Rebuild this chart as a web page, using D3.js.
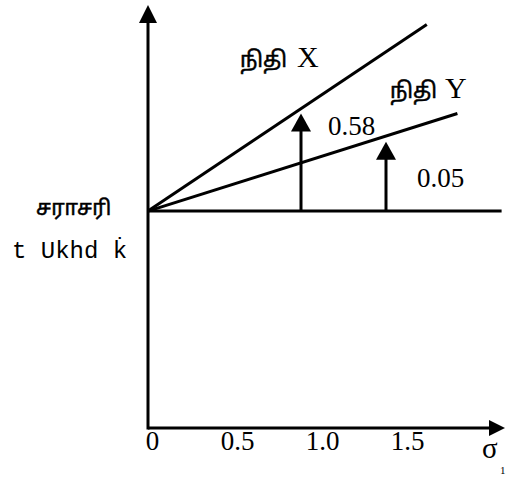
<!DOCTYPE html>
<html>
<head>
<meta charset="utf-8">
<script src="https://cdn.jsdelivr.net/npm/d3@7"></script>
<style>
  body { margin: 0; background: #fff; }
  svg { display: block; }
  .serif { font-family: 'Liberation Serif', 'Times New Roman', serif; }
  .tamil { font-family: 'Noto Sans Tamil', 'Lohit Tamil', 'Noto Sans', sans-serif; stroke: #000; stroke-width: 0.5px; }
</style>
</head>
<body>
<div id="chart"></div>
<script>
// sigma (risk) ticks along the x axis
const sigmaTicks = [0, 0.5, 1.0, 1.5]
// the two funds: line ends (sigma, return)
const fundNames = ['நிதி X', 'நிதி Y']
const fundEndSigma = [1.64, 1.82]
const fundEndReturn = [1.86, 1.45]
// average return line
const meanReturn = 1.0
// measuring arrows
const arrowSigma = [0.9, 1.4]
const arrowTop = [1.45, 1.32]
const arrowLabels = ['0.58', '0.05']

const width = 506
const height = 478

const x = d3.scaleLinear().domain([0, 2.1]).range([148, 505])
const y = d3.scaleLinear().domain([0, 1.95]).range([428, 5])

const svg = d3
  .select('#chart')
  .append('svg')
  .attr('width', width)
  .attr('height', height)

const ink = '#000'

// axes
svg
  .append('line')
  .attr('x1', x(0))
  .attr('y1', y(0) + 1.5)
  .attr('x2', x(0))
  .attr('y2', y(1.87))
  .attr('stroke', ink)
  .attr('stroke-width', 3)
svg
  .append('path')
  .attr('d', `M${x(0)},${y(1.95)} L${x(0) - 9},${y(1.95) + 18} L${x(0) + 9},${y(1.95) + 18} Z`)
  .attr('fill', ink)

svg
  .append('line')
  .attr('x1', x(0))
  .attr('y1', y(0))
  .attr('x2', x(2.03))
  .attr('y2', y(0))
  .attr('stroke', ink)
  .attr('stroke-width', 3)
svg
  .append('path')
  .attr('d', `M${x(2.1)},${y(0)} L${x(2.1) - 16},${y(0) - 8} L${x(2.1) - 16},${y(0) + 8} Z`)
  .attr('fill', ink)

const xAxis = d3
  .axisBottom(x)
  .tickValues(sigmaTicks)
  .tickSize(0)
  .tickPadding(0)
  .tickFormat((d) => (d === 0 ? '0' : d3.format('.1f')(d)))
const gx = svg.append('g').attr('transform', `translate(4, ${y(0) + 22})`).call(xAxis)
gx.select('.domain').remove()
gx.selectAll('text')
  .attr('class', 'serif')
  .attr('font-size', 27)
  .attr('fill', ink)
  .attr('dy', 0)

// sigma label
svg
  .append('text')
  .attr('class', 'serif')
  .attr('x', 482)
  .attr('y', 458)
  .attr('font-size', 29)
  .attr('fill', ink)
  .text('σ')
svg
  .append('text')
  .attr('class', 'serif')
  .attr('x', 500)
  .attr('y', 474)
  .attr('font-size', 11)
  .attr('fill', ink)
  .text('1')

// average return line
svg
  .append('line')
  .attr('x1', x(0))
  .attr('y1', y(meanReturn))
  .attr('x2', x(2.08))
  .attr('y2', y(meanReturn))
  .attr('stroke', ink)
  .attr('stroke-width', 3)

// fund lines
svg
  .selectAll('.fund')
  .data(fundNames)
  .enter()
  .append('line')
  .attr('class', 'fund')
  .attr('x1', x(0))
  .attr('y1', y(meanReturn))
  .attr('x2', (d, i) => x(fundEndSigma[i]))
  .attr('y2', (d, i) => y(fundEndReturn[i]))
  .attr('stroke', ink)
  .attr('stroke-width', 3)

// arrows
arrowSigma.forEach((s, i) => {
  const ax = x(s)
  const top = y(arrowTop[i])
  svg
    .append('line')
    .attr('x1', ax)
    .attr('y1', y(meanReturn))
    .attr('x2', ax)
    .attr('y2', top + 12)
    .attr('stroke', ink)
    .attr('stroke-width', 3)
  svg
    .append('path')
    .attr('d', `M${ax},${top} L${ax - 10},${top + 18} L${ax + 10},${top + 18} Z`)
    .attr('fill', ink)
})

// arrow value labels
const labelPos = [
  [328, 135],
  [417, 187],
]
arrowLabels.forEach((t, i) => {
  svg
    .append('text')
    .attr('class', 'serif')
    .attr('x', labelPos[i][0])
    .attr('y', labelPos[i][1])
    .attr('font-size', 27)
    .attr('fill', ink)
    .text(t)
})

// fund names
const namePos = [
  [240, 67, 297],
  [390, 98, 445],
]
fundNames.forEach((name, i) => {
  const [word, letter] = name.split(' ')
  svg
    .append('text')
    .attr('class', 'tamil')
    .attr('x', namePos[i][0])
    .attr('y', namePos[i][1])
    .attr('font-size', 22)
    .attr('fill', ink)
    .text(word)
  svg
    .append('text')
    .attr('class', 'serif')
    .attr('x', namePos[i][2])
    .attr('y', namePos[i][1])
    .attr('font-size', 30)
    .attr('fill', ink)
    .text(letter)
})

// y axis caption
svg
  .append('text')
  .attr('class', 'tamil')
  .attr('x', 36)
  .attr('y', 215)
  .attr('font-size', 21)
  .attr('fill', ink)
  .text('சராசரி')
svg
  .append('text')
  .attr('x', 12)
  .attr('y', 258)
  .attr('font-family', "'Liberation Mono', monospace")
  .attr('font-size', 24)
  .attr('fill', ink)
  .text('t Ukhd k\u0307')
</script>
</body>
</html>
